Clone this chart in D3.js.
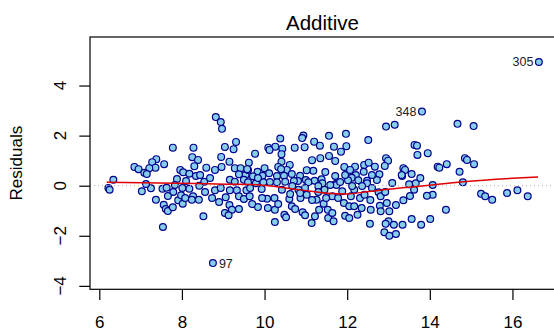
<!DOCTYPE html>
<html>
<head>
<meta charset="utf-8">
<script src="https://cdn.jsdelivr.net/npm/d3@7"></script>
<style>
  html, body { margin: 0; padding: 0; background: #fff; }
  svg { display: block; font-family: "Liberation Sans", Arial, Helvetica, sans-serif; }
</style>
</head>
<body>
<svg id="chart" width="554" height="332"></svg>
<script>
// ---- data ----
const title = "Additive";
const yLabel = "Residuals";
const xTicks = [6, 8, 10, 12, 14, 16];
const yTicks = [-4, -2, 0, 2, 4];

// fitted values (x) and residuals (y) of the observations
const fitted = [
  8.82, 8.94, 8.97, 7.78, 8.28, 9.04, 9.31, 9.25, 8.95, 8.25, 8.39, 7.38, 7.28, 7.57, 6.85, 6.95, 7.36, 7.21, 7.09, 7.15,
  9.15, 8.96, 8.59, 8.30, 7.96, 8.03, 8.18, 8.34, 7.88, 8.54, 9.28, 9.42, 9.54, 9.38, 9.16, 9.28, 9.50, 6.34, 9.60,
  6.22, 6.25, 7.03, 7.25, 7.53, 7.63, 7.79, 7.37, 7.56, 7.61, 7.66, 7.78, 7.91, 7.98, 8.02, 8.08, 8.27, 8.24, 8.41, 8.18,
  8.01, 8.42, 8.52, 7.54, 8.75, 8.80, 8.94, 9.06, 9.15, 9.21, 9.04, 9.13, 9.38, 9.33, 9.38, 9.50, 9.56, 9.16,
  12.94, 13.15, 12.51, 11.97, 11.56, 11.20, 11.34, 10.94, 10.91, 10.38, 10.97, 10.73, 10.26, 10.09, 10.12, 10.43, 9.77, 10.41,
  11.68, 11.98, 11.85, 11.56, 11.35, 11.15, 11.71, 11.93, 12.19, 12.41, 12.52, 12.67, 12.94, 12.99, 12.91, 12.78, 12.72, 12.48,
  12.40, 12.21, 12.11, 12.02, 12.27, 11.71, 11.72, 11.38, 11.40, 11.21, 11.18, 11.02, 10.86, 10.81, 11.00, 10.61, 10.54, 10.41,
  10.33, 10.40, 10.00, 9.83, 9.62, 9.58, 9.72, 9.95, 10.11, 10.30, 10.47, 10.66, 10.71, 10.50, 10.30, 9.97, 9.79, 9.60, 11.06,
  13.33, 12.48,
  9.65, 9.64, 9.84, 9.93, 10.06, 10.24, 10.25, 10.48, 10.52, 10.25, 10.42, 10.60, 10.66, 10.74, 10.82, 10.87, 10.92, 10.98,
  11.02, 11.14, 11.22, 11.26, 11.32, 11.43, 11.53, 11.54, 11.67, 11.64, 11.45, 11.64, 11.74, 11.88, 11.92, 11.95, 12.05, 12.05,
  12.09, 12.17, 12.25, 12.17, 12.31, 12.35, 12.42, 12.57, 12.55, 12.76, 12.81, 12.79, 12.81, 12.96, 13.02, 13.00, 12.93, 13.13,
  12.90, 13.02, 13.18,
  14.67, 15.06, 13.63, 13.69, 13.70, 13.95, 14.85, 14.90, 15.07, 14.41, 14.19, 14.23, 14.72, 13.36, 13.40, 13.32, 13.56, 14.80,
  13.50, 13.66, 14.07,
  13.62, 14.07, 13.93, 13.36, 15.24, 15.34, 15.51, 15.87, 16.12, 16.37, 14.39, 13.56, 14.01, 13.79, 13.34,
  9.84, 10.13, 10.67, 10.98, 11.30, 11.59, 11.83, 12.12, 12.36, 12.60, 10.86, 11.15, 11.49, 11.78, 10.33, 9.94, 9.70, 10.08,
  10.62, 11.30, 8.56, 8.73, 8.90, 7.83, 7.66, 8.44, 8.68, 8.80, 8.10, 7.13, 11.95, 11.47, 12.07, 12.60, 13.09, 12.92, 12.56,
  13.18, 13.52, 13.77,
  16.64, 13.81
];
const residuals = [
  2.74, 2.54, 2.27, 1.52, 1.52, 1.55, 1.75, 1.46, 1.15, 1.14, 1.03, 1.06, 0.94, 0.86, 0.75, 0.66, 0.72, 0.70, 0.52, 0.47,
  0.96, 0.75, 0.72, 0.78, 0.63, 0.54, 0.48, 0.39, 0.27, 0.16, 0.70, 0.70, 0.43, 0.46, 0.24, 0.16, 0.24, 0.24, 0.63,
  -0.09, -0.16, -0.22, -0.10, -0.12, -0.08, -0.25, -0.56, -0.76, -0.93, -1.01, -0.86, -0.58, -0.38, -0.72, -0.49, -0.42, -0.56, -0.56, -0.12,
  -0.09, 0.00, -1.22, -1.65, -3.09, -0.18, -0.09, -0.46, -0.77, -0.96, -1.09, -1.18, -0.93, -0.18, -0.42, -0.53, -0.18, -0.18,
  2.36, 2.43, 1.82, 2.07, 1.99, 1.76, 1.60, 2.00, 1.90, 1.88, 1.54, 1.52, 1.56, 1.52, 1.43, 1.48, 1.28, 1.26,
  1.56, 1.58, 1.36, 1.19, 1.10, 1.02, 0.99, 0.75, 0.76, 0.83, 0.92, 0.76, 1.10, 1.00, 0.79, 0.46, 0.23, 0.20,
  0.56, 0.43, 0.32, 0.22, 0.22, 0.39, 0.07, 0.26, 0.10, 0.20, 0.60, 0.62, 0.40, 0.19, 0.23, 0.83, 0.63, 0.96,
  0.75, 0.66, 0.70, 0.56, 0.92, 0.66, 0.38, 0.40, 0.50, 0.39, 0.40, 0.47, 0.19, 0.16, 0.14, 0.14, 0.10, 0.14, 0.14,
  0.39, 0.10,
  -0.09, -0.42, -0.85, -0.13, -0.52, -0.49, -0.96, -1.16, -1.26, -1.45, -0.16, -0.53, -0.82, -0.93, -0.16, -0.49, -1.06, -1.18,
  -0.36, -1.49, -1.22, -0.56, -0.96, -0.72, -0.96, -1.29, -1.42, -1.09, -0.16, -0.42, 0.03, -0.22, -0.69, -1.20, -1.29, -0.82,
  -0.42, -0.16, -1.16, -0.82, -0.49, -0.89, -0.36, -0.96, -1.52, -0.26, -0.42, -0.80, -1.02, -0.69, -1.02, -1.42, -1.52, -1.56,
  -1.86, -2.00, -1.93,
  2.47, 2.38, 1.63, 1.60, 1.23, 1.30, 1.10, 1.03, 0.86, 0.86, 0.76, 0.72, 0.56, 0.70, 0.63, 0.43, 0.47, 0.14,
  0.06, 0.10, 0.03,
  -0.16, -0.36, -0.40, -0.58, -0.32, -0.42, -0.56, -0.29, -0.18, -0.42, -0.96, -1.33, -1.33, -1.56, -1.56,
  0.31, 0.15, -0.01, -0.09, -0.01, 0.03, 0.15, -0.01, -0.01, -0.09, -0.29, -0.57, -0.49, -0.49, -0.73, -0.49, -0.73, -0.89,
  -0.33, -0.25, -0.25, -0.49, -0.65, 0.03, -0.41, 0.43, 0.31, 0.63, 0.19, 0.07, 0.43, 0.55, 0.63, 0.43, 0.11, -0.25, -0.57,
  -0.77, -0.41, 0.31,
  4.94, 2.96
];

// labelled outliers
const outlierIds = ["305", "348", "97"];
const outlierX = [16.64, 13.81, 8.75];
const outlierY = [4.94, 2.96, -3.09];
const outlierSide = ["left", "left", "right"];

// smoother (red curve)
const smoothX = [6.18, 7.87, 9.08, 9.65, 10.69, 11.12, 11.59, 12.00, 12.48, 13.28, 13.52, 14.81, 16.62];
const smoothY = [0.14, 0.10, 0.06, 0.05, -0.13, -0.22, -0.31, -0.33, -0.24, -0.09, -0.06, 0.16, 0.35];

// ---- drawing ----
const svg = d3.select("#chart");
const plot = { left: 90, right: 555, top: 37, bottom: 289.3 };

const x = d3.scaleLinear().domain([5.775, 17.03]).range([plot.left, plot.right]);
const y = d3.scaleLinear().domain([-4.137, 5.938]).range([plot.bottom, plot.top]);

const pts = fitted.map((v, i) => ({ x: v, y: residuals[i] }));

// points
svg.append("g")
  .selectAll("circle")
  .data(pts)
  .join("circle")
  .attr("cx", d => x(d.x))
  .attr("cy", d => y(d.y))
  .attr("r", 3.4)
  .attr("fill", "#87CEEB")
  .attr("stroke", "#00008B")
  .attr("stroke-width", 1.2);

// zero reference line (dotted grey)
svg.append("line")
  .attr("x1", plot.left).attr("x2", plot.right)
  .attr("y1", y(0)).attr("y2", y(0))
  .attr("stroke", "#b0b0b0")
  .attr("stroke-width", 1)
  .attr("stroke-dasharray", "1,3");

// smoother
const smooth = smoothX.map((v, i) => [v, smoothY[i]]);
svg.append("path")
  .datum(smooth)
  .attr("fill", "none")
  .attr("stroke", "#e00000")
  .attr("stroke-width", 1.5)
  .attr("d", d3.line().x(d => x(d[0])).y(d => y(d[1])).curve(d3.curveMonotoneX));

// outlier labels
outlierIds.forEach((id, i) => {
  const left = outlierSide[i] === "left";
  svg.append("text")
    .attr("x", x(outlierX[i]) + (left ? -5.5 : 6))
    .attr("y", y(outlierY[i]))
    .attr("dy", "0.36em")
    .attr("text-anchor", left ? "end" : "start")
    .attr("font-size", "12.5px")
    .attr("fill", "#222")
    .text(id);
});

// box
svg.append("rect")
  .attr("x", plot.left).attr("y", plot.top)
  .attr("width", plot.right - plot.left).attr("height", plot.bottom - plot.top)
  .attr("fill", "none").attr("stroke", "#000").attr("stroke-width", 1.2);

// x axis
const xAxis = svg.append("g")
  .attr("transform", `translate(0,${plot.bottom})`)
  .call(d3.axisBottom(x).tickValues(xTicks).tickSize(10.7).tickPadding(15.5).tickFormat(d3.format("d")));
xAxis.select(".domain").remove();
xAxis.selectAll("line").attr("stroke", "#000").attr("stroke-width", 1.2);
xAxis.selectAll("text").attr("font-size", "17px").attr("fill", "#000")
  .attr("font-family", "Liberation Sans, Arial, sans-serif");

// y axis
const yAxis = svg.append("g")
  .attr("transform", `translate(${plot.left},0)`)
  .call(d3.axisLeft(y).tickValues(yTicks).tickSize(10.7).tickFormat(""));
yAxis.select(".domain").remove();
yAxis.selectAll("line").attr("stroke", "#000").attr("stroke-width", 1.2);
svg.append("g").selectAll("text")
  .data(yTicks)
  .join("text")
  .attr("transform", d => `translate(65.5,${y(d)}) rotate(-90)`)
  .attr("text-anchor", "middle")
  .attr("font-size", "17px")
  .attr("fill", "#000")
  .text(d => d < 0 ? "\u2212" + Math.abs(d) : String(d));

// title
svg.append("text")
  .attr("x", (plot.left + plot.right) / 2)
  .attr("y", 30)
  .attr("text-anchor", "middle")
  .attr("font-size", "20.5px")
  .attr("fill", "#000")
  .text(title);

// y label
svg.append("text")
  .attr("transform", `translate(22,${(plot.top + plot.bottom) / 2}) rotate(-90)`)
  .attr("text-anchor", "middle")
  .attr("font-size", "17px")
  .attr("fill", "#000")
  .text(yLabel);
</script>
</body>
</html>
